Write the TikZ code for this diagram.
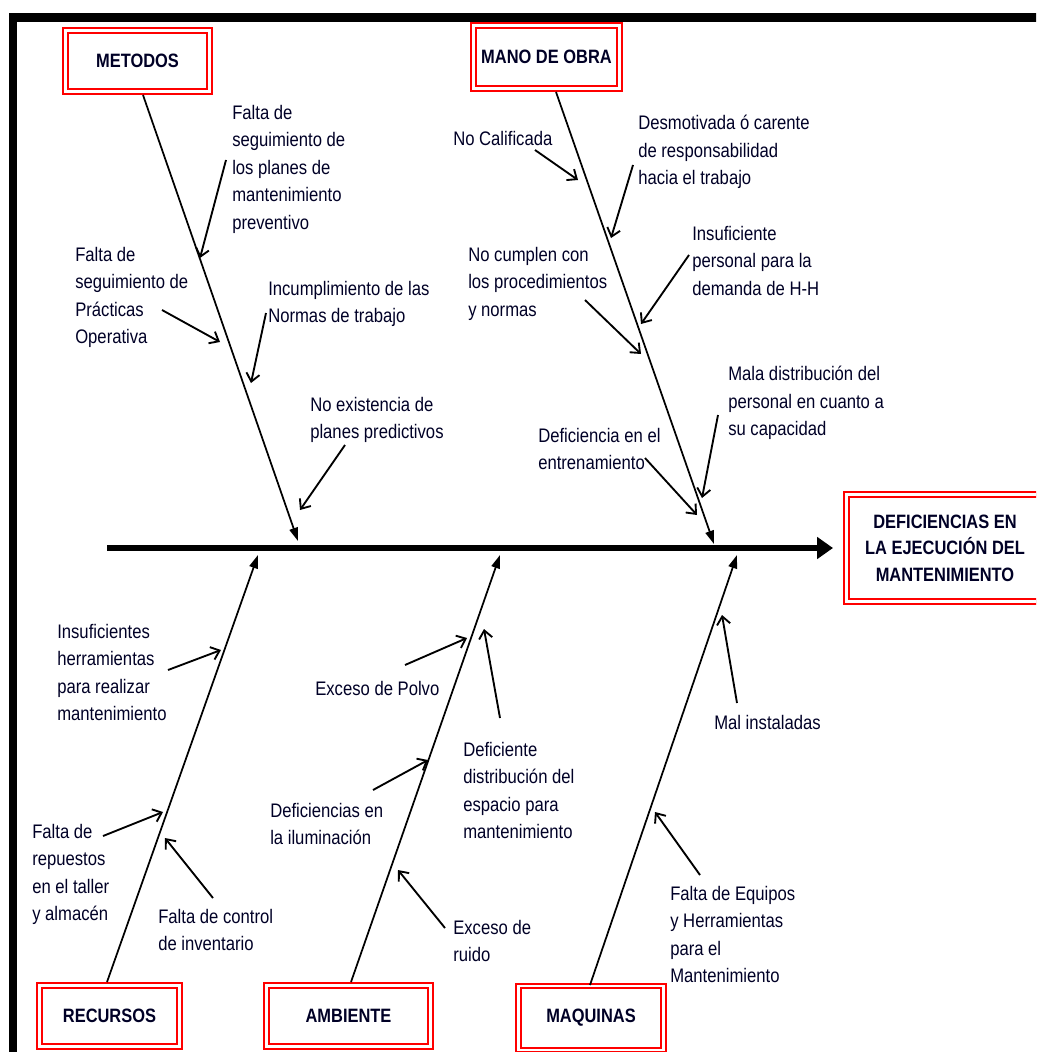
\documentclass[tikz,border=0pt]{standalone}
\usepackage{fontspec}
\setmainfont[FakeStretch=0.85]{Liberation Sans}
\usetikzlibrary{arrows.meta}

\begin{document}
\begin{tikzpicture}[x=0.75pt,y=-0.75pt,
  cause/.style={font=\fontsize{14.7}{20.6}\selectfont, anchor=north west,
    align=left, inner sep=0pt, text=black!85!blue},
  catbox/.style={draw=red, line width=1.5pt, double=white, double distance=2pt,
    fill=white, inner sep=0pt, align=center, text=black!85!blue,
    font=\bfseries\fontsize{14.5}{20}\selectfont},
  bone/.style={line width=1.3pt, -{Triangle[length=10pt,width=6.5pt]}},
  twig/.style={line width=1.4pt, -{Straight Barb[length=6pt,width=10pt]}},
  spine/.style={line width=4.5pt, -{Triangle[length=12pt,width=16pt]}},
]
\useasboundingbox (0,0) rectangle (1036,1052);
\clip (0,0) rectangle (1036,1052);

% frame
\fill[black] (9,13) rectangle (1045,22);
\fill[black] (9,13) rectangle (17,1060);

% effect box and spine
\node[catbox, minimum width=165pt, minimum height=80.25pt] (eff) at (956.5,548) {};
\node[font=\bfseries\fontsize{14.5}{19.8}\selectfont, align=center, inner sep=0pt,
      text=black!85!blue] (efft) at (945,548)
  {DEFICIENCIAS EN\\LA EJECUCIÓN DEL\\MANTENIMIENTO};
\coordinate (sp0) at (107,548);
\coordinate (sp1) at (833,548);
\draw[spine] (sp0) -- (sp1);

% category boxes
\node[catbox, minimum width=108pt, minimum height=45.75pt] (met) at (137.5,61) {METODOS};
\node[catbox, minimum width=109.5pt, minimum height=47.25pt] (mob) at (546.5,57) {MANO DE OBRA};
\node[catbox, minimum width=105pt, minimum height=45.75pt] (rec) at (109.5,1016) {RECURSOS};
\node[catbox, minimum width=123pt, minimum height=45.75pt] (amb) at (348.5,1016) {AMBIENTE};
\node[catbox, minimum width=108.75pt, minimum height=48pt] (maq) at (591,1018) {MAQUINAS};

% main bones
\coordinate (metA) at (143,95);  \coordinate (metB) at (298,541);
\coordinate (mobA) at (556,92);  \coordinate (mobB) at (714,544);
\coordinate (recA) at (107,982); \coordinate (recB) at (258,555);
\coordinate (ambA) at (351,982); \coordinate (ambB) at (500,555);
\coordinate (maqA) at (590,985); \coordinate (maqB) at (737,555);
\draw[bone] (metA) -- (metB);
\draw[bone] (mobA) -- (mobB);
\draw[bone] (recA) -- (recB);
\draw[bone] (ambA) -- (ambB);
\draw[bone] (maqA) -- (maqB);

% METODOS causes
\node[cause] (m1) at (232,105) {Falta de\\seguimiento de\\los planes de\\mantenimiento\\preventivo};
\node[cause] (m2) at (75,247) {Falta de\\seguimiento de\\Prácticas\\Operativa};
\node[cause] (m3) at (268,281) {Incumplimiento de las\\Normas de trabajo};
\node[cause] (m4) at (310,397) {No existencia de\\planes predictivos};
\coordinate (m1s) at (226,160); \coordinate (m1e) at (200,258);
\coordinate (m2s) at (162,310); \coordinate (m2e) at (220,342);
\coordinate (m3s) at (266,313); \coordinate (m3e) at (251,383);
\coordinate (m4s) at (345,445); \coordinate (m4e) at (300,510);
\draw[twig] (m1s) -- (m1e);
\draw[twig] (m2s) -- (m2e);
\draw[twig] (m3s) -- (m3e);
\draw[twig] (m4s) -- (m4e);

% MANO DE OBRA causes
\node[cause] (n1) at (453,131) {No Calificada};
\node[cause] (n2) at (638,115) {Desmotivada ó carente\\de responsabilidad\\hacia el trabajo};
\node[cause] (n3) at (468,247) {No cumplen con\\los procedimientos\\y normas};
\node[cause] (n4) at (692,226) {Insuficiente\\personal para la\\demanda de H-H};
\node[cause] (n5) at (728,366) {Mala distribución del\\personal en cuanto a\\su capacidad};
\node[cause] (n6) at (538,428) {Deficiencia en el\\entrenamiento};
\coordinate (n1s) at (535,150); \coordinate (n1e) at (578,180);
\coordinate (n2s) at (633,165); \coordinate (n2e) at (611,238);
\coordinate (n3s) at (585,300); \coordinate (n3e) at (641,354);
\coordinate (n4s) at (689,255); \coordinate (n4e) at (641,324);
\coordinate (n5s) at (718,415); \coordinate (n5e) at (702,498);
\coordinate (n6s) at (645,458); \coordinate (n6e) at (697,515);
\draw[twig] (n1s) -- (n1e);
\draw[twig] (n2s) -- (n2e);
\draw[twig] (n3s) -- (n3e);
\draw[twig] (n4s) -- (n4e);
\draw[twig] (n5s) -- (n5e);
\draw[twig] (n6s) -- (n6e);

% RECURSOS causes
\node[cause] (r1) at (57,624) {Insuficientes\\herramientas\\para realizar\\mantenimiento};
\node[cause] (r2) at (32,824) {Falta de\\repuestos\\en el taller\\y almacén};
\node[cause] (r3) at (158,909) {Falta de control\\de inventario};
\coordinate (r1s) at (168,670); \coordinate (r1e) at (221,650);
\coordinate (r2s) at (103,836); \coordinate (r2e) at (163,812);
\coordinate (r3s) at (213,898); \coordinate (r3e) at (165,838);
\draw[twig] (r1s) -- (r1e);
\draw[twig] (r2s) -- (r2e);
\draw[twig] (r3s) -- (r3e);

% AMBIENTE causes
\node[cause] (a1) at (315,681) {Exceso de Polvo};
\node[cause] (a2) at (463,742) {Deficiente\\distribución del\\espacio para\\mantenimiento};
\node[cause] (a3) at (270,803) {Deficiencias en\\la iluminación};
\node[cause] (a4) at (453,920) {Exceso de\\ruido};
\coordinate (a1s) at (405,665); \coordinate (a1e) at (467,638);
\coordinate (a2s) at (500,718); \coordinate (a2e) at (484,629);
\coordinate (a3s) at (373,790); \coordinate (a3e) at (428,760);
\coordinate (a4s) at (445,928); \coordinate (a4e) at (398,870);
\draw[twig] (a1s) -- (a1e);
\draw[twig] (a2s) -- (a2e);
\draw[twig] (a3s) -- (a3e);
\draw[twig] (a4s) -- (a4e);

% MAQUINAS causes
\node[cause] (q1) at (714,715) {Mal instaladas};
\node[cause] (q2) at (670,886) {Falta de Equipos\\y Herramientas\\para el\\Mantenimiento};
\coordinate (q1s) at (737,703); \coordinate (q1e) at (722,615);
\coordinate (q2s) at (700,875); \coordinate (q2e) at (655,812);
\draw[twig] (q1s) -- (q1e);
\draw[twig] (q2s) -- (q2e);
\end{tikzpicture}
\end{document}
